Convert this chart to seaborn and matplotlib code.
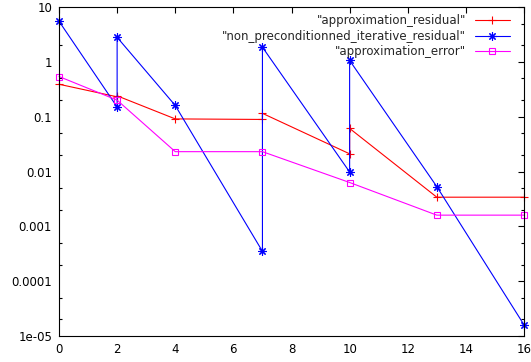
import matplotlib
matplotlib.use("Agg")
import matplotlib.pyplot as plt
import matplotlib.ticker as mticker
import seaborn as sns
import pandas as pd

# ---- data ----
resid_x = [0, 2, 2, 4, 7, 7, 10, 10, 13, 16]
resid_y = [0.39, 0.23, 0.24, 0.091, 0.089, 0.115, 0.021, 0.061, 0.0034, 0.0034]

iter_x = [0, 2, 2, 4, 7, 7, 10, 10, 13, 16]
iter_y = [5.5, 0.15, 2.8, 0.16, 0.00035, 1.85, 0.0098, 1.06, 0.0053, 0.000016]

err_x = [0, 2, 4, 7, 10, 13, 16]
err_y = [0.54, 0.20, 0.023, 0.023, 0.0063, 0.0016, 0.0016]

labels = ['"approximation_residual"',
          '"non_preconditionned_iterative_residual"',
          '"approximation_error"']

x_ticks = [0, 2, 4, 6, 8, 10, 12, 14, 16]
y_ticks = [1e-05, 1e-04, 1e-03, 1e-02, 1e-01, 1, 10]
y_tick_labels = ["1e-05", "0.0001", "0.001", "0.01", "0.1", "1", "10"]

sns.set_theme(style="white")
plt.rcParams["font.family"] = ["DejaVu Sans"]

W, H = 531, 362
fig = plt.figure(figsize=(W / 100, H / 100), dpi=100)
L, R, T, B = 59, 524, 7, 336
ax = fig.add_axes([L / W, 1 - B / H, (R - L) / W, (B - T) / H])

lw = 0.8
sns.lineplot(x=resid_x, y=resid_y, sort=False, estimator=None, ax=ax,
             color="#ff0000", linewidth=lw, marker="+", markersize=5.5,
             markeredgewidth=0.8, markeredgecolor="#ff0000",
             label=labels[0], clip_on=False)
sns.lineplot(x=iter_x, y=iter_y, sort=False, estimator=None, ax=ax,
             color="#0000ff", linewidth=lw, marker=(8, 2, 0), markersize=6,
             markeredgewidth=0.8, markeredgecolor="#0000ff",
             label=labels[1], clip_on=False)
sns.lineplot(x=err_x, y=err_y, sort=False, estimator=None, ax=ax,
             color="#ff00ff", linewidth=lw, marker="s", markersize=4.5,
             markerfacecolor="none", markeredgecolor="#ff00ff",
             markeredgewidth=0.8, label=labels[2], clip_on=False)

ax.set_yscale("log")
ax.set_xlim(0, 16)
ax.set_ylim(1e-05, 10)
ax.set_xticks(x_ticks)
ax.set_xticklabels([str(v) for v in x_ticks])
ax.yaxis.set_major_locator(mticker.FixedLocator(y_ticks))
ax.yaxis.set_major_formatter(mticker.FixedFormatter(y_tick_labels))
ax.yaxis.set_minor_locator(mticker.LogLocator(base=10, subs=[2, 5], numticks=20))
ax.yaxis.set_minor_formatter(mticker.NullFormatter())

for s in ax.spines.values():
    s.set_color("black")
    s.set_linewidth(0.8)

ax.tick_params(axis="both", which="major", direction="in", length=4.5,
               width=0.8, color="black", labelsize=8.5, labelcolor="black",
               top=True, right=True, pad=5)
ax.tick_params(axis="y", which="minor", direction="in", length=2.3,
               width=0.8, color="black", left=True, right=True)
ax.set_xlabel("")
ax.set_ylabel("")

ax.legend(loc="upper right", bbox_to_anchor=((517 - L) / (R - L), 1.0),
          markerfirst=False, frameon=False, fontsize=8.5,
          handlelength=3.0, handletextpad=0.7, labelspacing=0.22,
          borderaxespad=0.4, borderpad=0.2)

fig.savefig("out.png", dpi=100)
